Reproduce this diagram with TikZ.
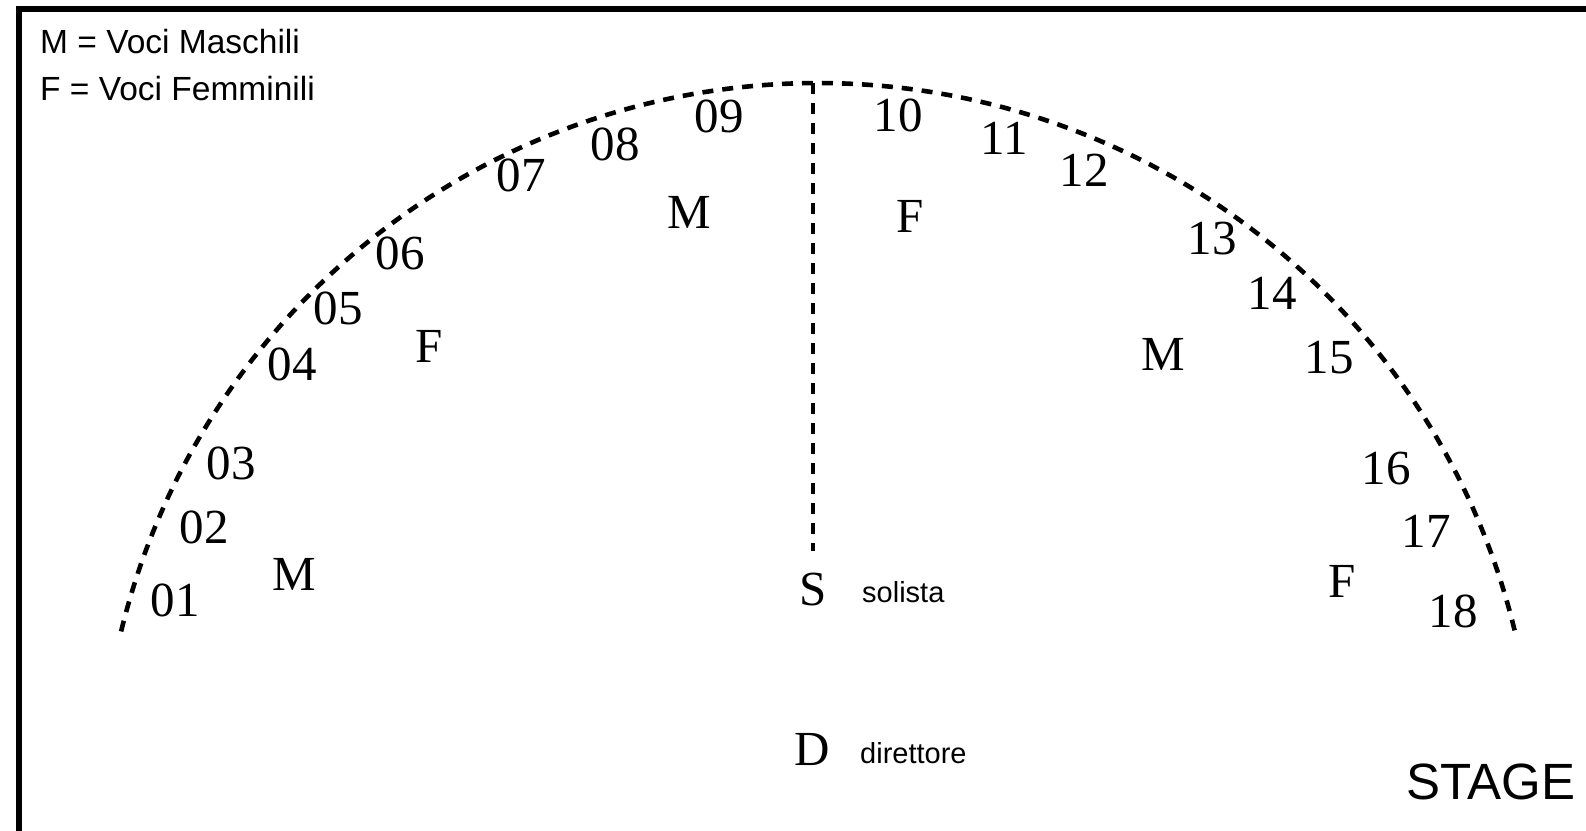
\documentclass[tikz,border=0pt]{standalone}
\usepackage{fontspec}
\setmainfont{Liberation Serif}
\newfontfamily\arialfont{Liberation Sans}
\tikzset{
  lbl/.style={inner sep=0pt, anchor=center, font=\fontsize{49}{49}\selectfont},
  legendtxt/.style={inner sep=0pt, anchor=base west, font=\arialfont\fontsize{33.5}{33.5}\selectfont},
  roletxt/.style={inner sep=0pt, anchor=base west, font=\arialfont\fontsize{29}{29}\selectfont},
  stagetxt/.style={inner sep=0pt, anchor=base west, font=\arialfont\fontsize{51}{51}\selectfont},
  dashline/.style={line width=4.6pt, dash pattern=on 11pt off 9pt},
  frame/.style={line width=5.5pt}
}
\begin{document}
\begin{tikzpicture}[x=1pt,y=-1pt]
\useasboundingbox (0,0) rectangle (1586,830);
% frame (left and top edges)
\draw[frame] (19,840) -- (19,9) -- (1600,9);
% legend
\node[legendtxt] (leg1) at (40,53) {M = Voci Maschili};
\node[legendtxt] (leg2) at (40,100) {F = Voci Femminili};
% dashed arc
\draw[dashline] plot[domain=193.6:346.4, samples=240] ({818+717*cos(\x)}, {800+717*sin(\x)});
% vertical dashed line
\coordinate (top) at (813,83);
\coordinate (bot) at (813,551);
\draw[dashline] (top) -- (bot);
% seat numbers
\node[lbl] (n01) at (175,600) {01};
\node[lbl] (n02) at (204,527) {02};
\node[lbl] (n03) at (231,463) {03};
\node[lbl] (n04) at (292,364) {04};
\node[lbl] (n05) at (338,308) {05};
\node[lbl] (n06) at (400,253) {06};
\node[lbl] (n07) at (521,175) {07};
\node[lbl] (n08) at (615,144) {08};
\node[lbl] (n09) at (719,116) {09};
\node[lbl] (n10) at (898,115) {10};
\node[lbl] (n11) at (1004,138) {11};
\node[lbl] (n12) at (1084,170) {12};
\node[lbl] (n13) at (1212,239) {13};
\node[lbl] (n14) at (1272,293) {14};
\node[lbl] (n15) at (1329,358) {15};
\node[lbl] (n16) at (1386,469) {16};
\node[lbl] (n17) at (1426,531) {17};
\node[lbl] (n18) at (1453,611) {18};
% voice letters
\node[lbl] (m1) at (294,574) {M};
\node[lbl] (f1) at (429,346) {F};
\node[lbl] (m2) at (689,212) {M};
\node[lbl] (f2) at (910,216) {F};
\node[lbl] (m3) at (1163,354) {M};
\node[lbl] (f3) at (1342,581) {F};
% soloist and conductor
\node[lbl] (S) at (813,590) {S};
\node[roletxt] (sol) at (862,602) {solista};
\node[lbl] (D) at (812,749) {D};
\node[roletxt] (dir) at (860,763) {direttore};
% stage
\node[stagetxt] (stage) at (1406,799) {STAGE};
\end{tikzpicture}
\end{document}
